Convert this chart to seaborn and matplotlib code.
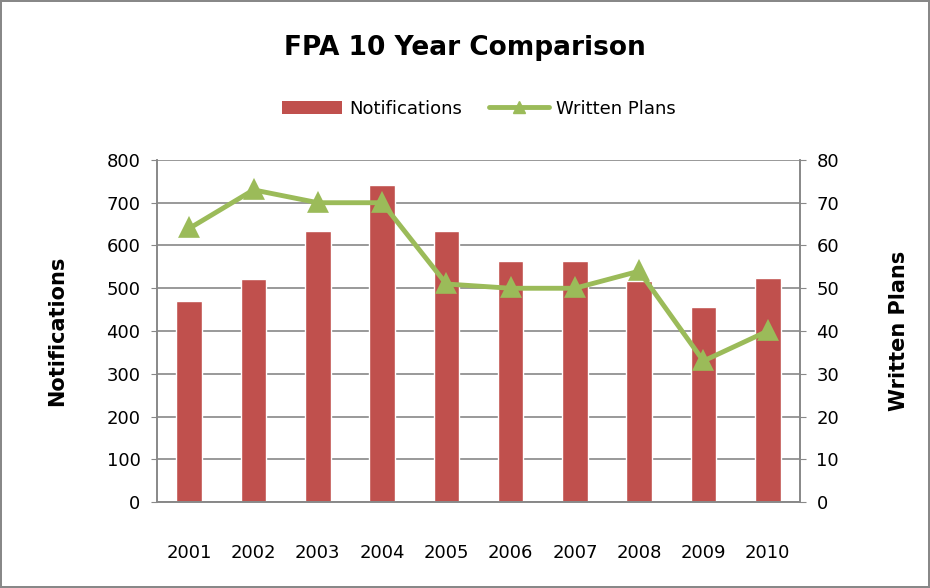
import matplotlib
matplotlib.use('Agg')
import matplotlib.pyplot as plt
from matplotlib.lines import Line2D
from matplotlib.patches import Patch
import seaborn as sns

years = ['2001', '2002', '2003', '2004', '2005', '2006', '2007', '2008', '2009', '2010']
notifications = [470, 521, 633, 741, 633, 563, 563, 517, 456, 525]
written_plans = [64, 73, 70, 70, 51, 50, 50, 54, 33, 40]

bar_color = '#C0504D'
line_color = '#9BBB59'
grid_color = '#888888'

sns.set_style('white')
plt.rcParams['font.family'] = ['DejaVu Sans']
plt.rcParams['text.color'] = 'black'
plt.rcParams['axes.labelcolor'] = 'black'
plt.rcParams['xtick.labelcolor'] = 'black'
plt.rcParams['ytick.labelcolor'] = 'black'

fig = plt.figure(figsize=(9.3, 5.88), dpi=100)
fig.patch.set_edgecolor(grid_color)
fig.patch.set_linewidth(1.5)
ax = fig.add_axes([0.169, 0.146, 0.691, 0.582])

sns.barplot(x=years, y=notifications, ax=ax, color=bar_color, width=0.4,
            saturation=1, zorder=2)
ax.set_ylim(0, 800)
ax.set_yticks(range(0, 801, 100))
ax.yaxis.grid(True, color=grid_color, linewidth=1.2, zorder=0)
ax.set_axisbelow(True)

ax2 = ax.twinx()
sns.pointplot(x=years, y=written_plans, ax=ax2, color=line_color, markers='^',
              markersize=11, linewidth=3.5)
ax2.set_ylim(0, 80)
ax2.set_yticks(range(0, 81, 10))
ax.set_xlim(-0.5, 9.5)
ax2.set_xlim(-0.5, 9.5)

for a in (ax, ax2):
    for side in a.spines:
        a.spines[side].set_color(grid_color)
        a.spines[side].set_linewidth(1.2)
    a.spines['top'].set_visible(False)
    a.tick_params(axis='both', labelsize=13, length=4, color=grid_color, pad=8)

ax.tick_params(axis='x', length=0, pad=30)
ax.set_xlabel('')
ax.set_ylabel('Notifications', fontsize=15, fontweight='bold', labelpad=28)
ax2.set_ylabel('Written Plans', fontsize=15, fontweight='bold', labelpad=36)

fig.text(0.5, 0.918, 'FPA 10 Year Comparison', ha='center', va='center',
         fontsize=19, fontweight='bold')

handles = [Patch(facecolor=bar_color, edgecolor='none'),
           Line2D([], [], color=line_color, linewidth=3.5, marker='^', markersize=8)]
fig.legend(handles, ['Notifications', 'Written Plans'], loc='center',
           bbox_to_anchor=(0.515, 0.815), ncol=2, frameon=False, fontsize=13,
           handlelength=3.3, columnspacing=1.5, handletextpad=0.4)

fig.savefig('out.png', dpi=100)
